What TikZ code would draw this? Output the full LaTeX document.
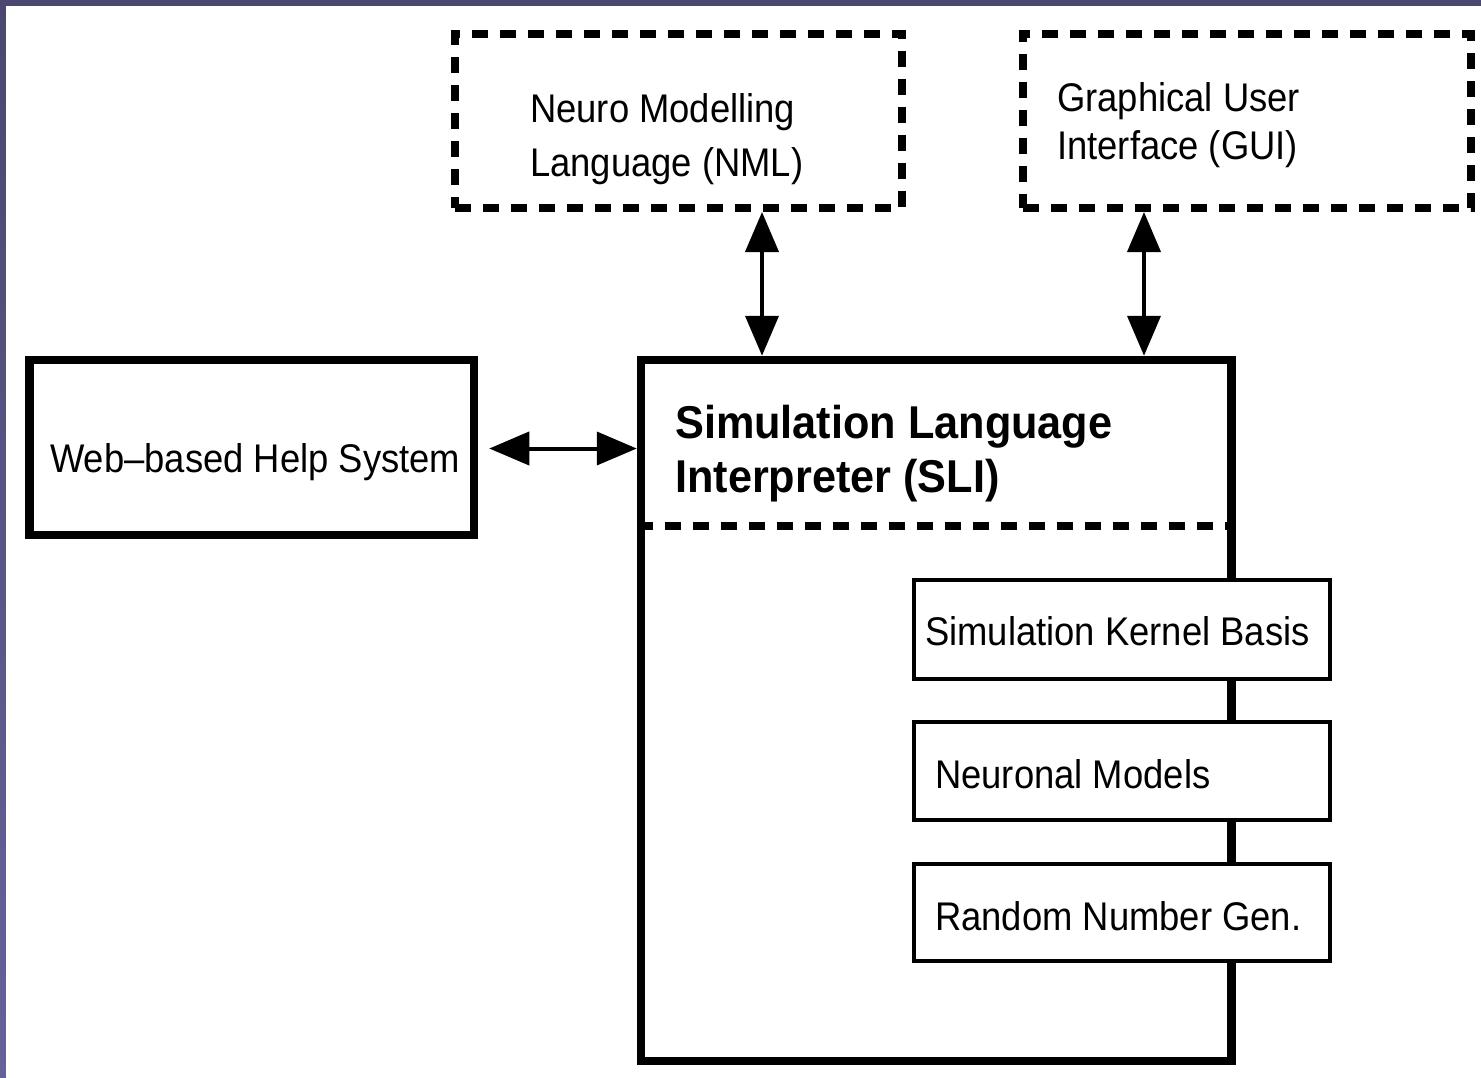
\documentclass[tikz,border=0pt]{standalone}
\usepackage{fontspec}
\setmainfont{Liberation Sans}
\newfontfamily\regfont[FakeStretch=0.91]{Liberation Sans}
\newfontfamily\boldfont[FakeStretch=0.94]{Liberation Sans Bold}
\usetikzlibrary{arrows.meta}
\definecolor{frameA}{HTML}{4A4870}
\definecolor{frameB}{HTML}{65629A}
\tikzset{
  dashbox/.style={draw, line width=8pt, dash pattern=on 16pt off 12pt, inner sep=0pt, rectangle},
  solidbox/.style={draw, line width=8.5pt, inner sep=0pt, rectangle},
  subbox/.style={draw, fill=white, line width=4pt, inner sep=0pt, rectangle, minimum width=415.5pt},
  lbl/.style={anchor=base west, inner sep=0pt, font=\regfont\fontsize{40}{48}\selectfont},
  blbl/.style={anchor=base west, inner sep=0pt, font=\boldfont\fontsize{46}{54}\selectfont},
  biarrow/.style={line width=4pt, {Triangle[length=40pt,width=33pt]}-{Triangle[length=40pt,width=33pt]}}
}
\begin{document}
\begin{tikzpicture}[x=1pt,y=-1pt]
\useasboundingbox (0,0) rectangle (1481,1077);
% slide frame
\fill[frameA] (0,0) rectangle (1481,6);
\shade[top color=frameA, bottom color=frameB] (0,0) rectangle (6,1077);
\fill[white] (6,6) rectangle (1481,1077);

% boxes
\node[dashbox, minimum width=447pt, minimum height=174.5pt] (nml) at (678.5,120.75) {};
\node[dashbox, minimum width=448.5pt, minimum height=174.5pt] (gui) at (1246.75,120.75) {};
\node[solidbox, minimum width=444.5pt, minimum height=175pt] (web) at (251.75,447.5) {};
\node[solidbox, minimum width=590.5pt, minimum height=701pt] (sli) at (936.25,710.5) {};

% SLI internal dashed separator
\coordinate (sep) at (0,526);
\draw[line width=8pt, dash pattern=on 16pt off 12pt] (sli.west |- sep) -- ([xshift=-6pt]sli.east |- sep);

% sub boxes
\node[subbox, minimum height=99pt] (skb) at (1121.75,629) {};
\node[subbox, minimum height=98.5pt] (nm) at (1121.75,770.75) {};
\node[subbox, minimum height=97pt] (rng) at (1121.75,912.5) {};

% texts
\node[lbl] (t1) at (530,122) {Neuro Modelling};
\node[lbl] (t2) at (530,176) {Language (NML)};
\node[lbl] (t3) at (1057,111) {Graphical User};
\node[lbl] (t4) at (1057,159) {Interface (GUI)};
\node[lbl] (t5) at (50,472) {Web–based Help System};
\node[blbl] (t6) at (675,438) {Simulation Language};
\node[blbl] (t7) at (675,492) {Interpreter (SLI)};
\node[lbl] (t8) at (925,645) {Simulation Kernel Basis};
\node[lbl] (t9) at (935,788) {Neuronal Models};
\node[lbl] (t10) at (935,930) {Random Number Gen.};

% connectors
\coordinate (ax1) at (762,0);
\coordinate (ax2) at (1144,0);
\coordinate (ay1) at (0,448.5);
\draw[biarrow] (nml.south -| ax1) -- (sli.north -| ax1);
\draw[biarrow] (gui.south -| ax2) -- (sli.north -| ax2);
\draw[biarrow, shorten <=11pt] (web.east |- ay1) -- (sli.west |- ay1);
\end{tikzpicture}
\end{document}
